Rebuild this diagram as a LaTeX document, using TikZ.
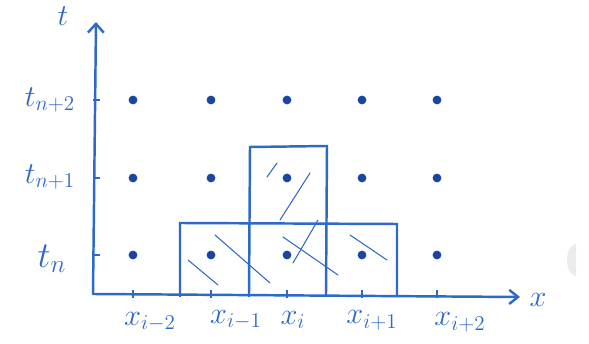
\documentclass[tikz,border=0pt]{standalone}
\usepackage{tikz}
\usetikzlibrary{arrows.meta}
\definecolor{handblue}{RGB}{45,105,200}
\definecolor{dotblue}{RGB}{25,70,160}
\begin{document}
\begin{tikzpicture}[x=0.02cm,y=-0.02cm,
  pen/.style={handblue,line width=1.4pt,line cap=round},
  thinpen/.style={handblue,line width=0.6pt,line cap=round},
  dot/.style={circle,fill=dotblue,inner sep=0pt,minimum size=5pt},
  lab/.style={text=handblue,font=\LARGE},
  tick/.style={handblue,line width=1.4pt}]
\useasboundingbox (0,0) rectangle (589,344);
% axes
\coordinate (O) at (93,294);
\coordinate (Xend) at (520,297);
\coordinate (Yend) at (96,22);
\draw[pen,-{Straight Barb[length=5pt,width=8pt]}] (O) -- (Xend);
\draw[pen,-{Straight Barb[length=5pt,width=9pt]}] (O) -- (Yend);
\node[lab] (xl) at (538,300) {$x$};
\node[lab] (tl) at (63,16) {$t$};
% grid points
\foreach \i/\xx in {1/133,2/211,3/287,4/362,5/437}{
  \foreach \j/\yy in {0/255,1/178,2/100}{
    \node[dot] (p\i\j) at (\xx,\yy) {};
  }
  \draw[tick] (\xx,290) -- (\xx,298);
}
% t ticks and labels
\foreach \j/\yy in {0/255,1/178,2/100}{
  \draw[tick] (93,\yy) -- (100,\yy);
}
\node[lab,font=\huge] (tn) at (52,259) {$t_n$};
\node[lab] (tn1) at (50,177) {$t_{n+1}$};
\node[lab] (tn2) at (50,100) {$t_{n+2}$};
% x labels
\node[lab] (x1) at (150,322) {$x_{i-2}$};
\node[lab] (x2) at (236,320) {$x_{i-1}$};
\node[lab] (x3) at (293,320) {$x_{i}$};
\node[lab] (x4) at (372,320) {$x_{i+1}$};
\node[lab] (x5) at (460,322) {$x_{i+2}$};
% boxes
\draw[pen] (180,295) -- (180,223) -- (397,224) -- (397,296);
\draw[pen] (249,295) -- (250,147) -- (327,146) -- (326,295);
% extra ticks at box edges
\foreach \xx in {180,249,326,397}{
  \draw[tick] (\xx,288) -- (\xx,297);
}
% hatching
\draw[thinpen] (188,260) -- (218,285);
\draw[thinpen] (215,235) -- (270,283);
\draw[thinpen] (283,237) -- (338,275);
\draw[thinpen] (293,263) -- (318,220);
\draw[thinpen] (280,220) -- (310,173);
\draw[thinpen] (267,177) -- (277,163);
\draw[thinpen] (350,235) -- (387,260);
% scan artefact
\fill[gray!15] (576,276) arc (90:270:9 and 16) -- cycle;
\end{tikzpicture}
\end{document}
